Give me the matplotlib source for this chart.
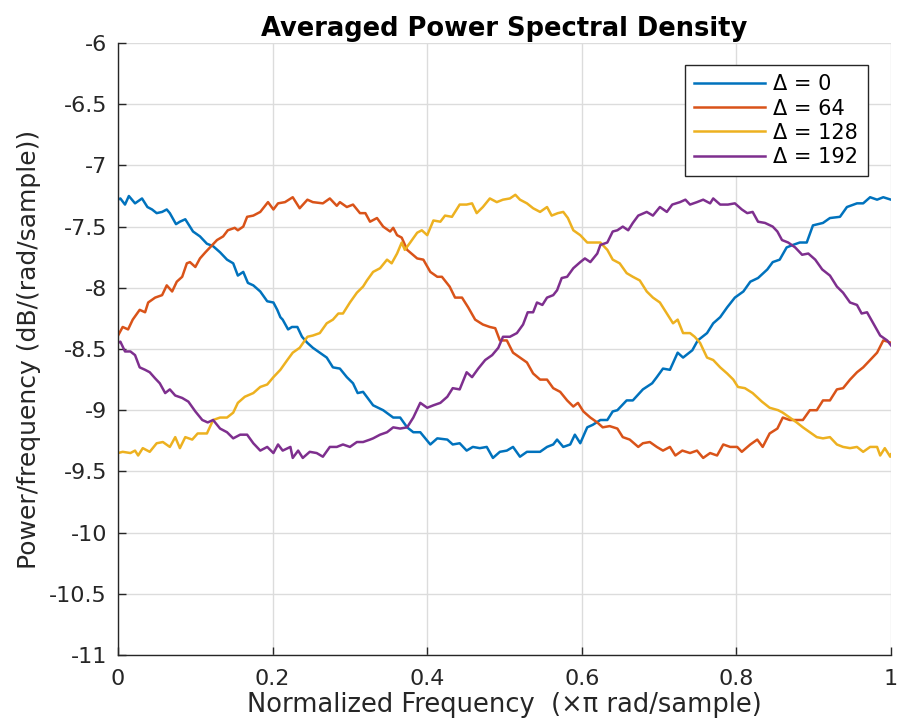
import matplotlib
matplotlib.use('Agg')
import matplotlib.pyplot as plt

plt.rcParams['font.family'] = ['DejaVu Sans']
plt.rcParams['axes.unicode_minus'] = False

# Averaged PSD for four delay values
labels = ['\u0394 = 0', '\u0394 = 64', '\u0394 = 128', '\u0394 = 192']
colors = ['#0072BD', '#D95319', '#EDB120', '#7E2F8E']

f_d0 = [0, 0.003, 0.009, 0.014, 0.022, 0.031, 0.038, 0.044, 0.050, 0.057, 0.063, 0.067, 0.075, 0.080,
        0.087, 0.097, 0.106, 0.115, 0.123, 0.132, 0.141, 0.149, 0.155, 0.162, 0.168, 0.175, 0.184, 0.193,
        0.201, 0.206, 0.210, 0.213, 0.220, 0.225, 0.232, 0.238, 0.245, 0.252, 0.261, 0.270, 0.278, 0.287,
        0.296, 0.304, 0.310, 0.317, 0.330, 0.343, 0.356, 0.365, 0.374, 0.382, 0.391, 0.404, 0.413, 0.426,
        0.433, 0.442, 0.451, 0.459, 0.468, 0.477, 0.485, 0.494, 0.503, 0.511, 0.520, 0.529, 0.537, 0.546,
        0.555, 0.563, 0.568, 0.576, 0.585, 0.591, 0.598, 0.607, 0.614, 0.624, 0.633, 0.640, 0.646, 0.658,
        0.666, 0.679, 0.691, 0.697, 0.705, 0.714, 0.724, 0.731, 0.743, 0.750, 0.762, 0.770, 0.779, 0.788,
        0.798, 0.809, 0.818, 0.828, 0.840, 0.847, 0.856, 0.865, 0.873, 0.882, 0.891, 0.899, 0.912, 0.921,
        0.934, 0.943, 0.956, 0.964, 0.973, 0.982, 0.990, 1.0]
psd_d0 = [-7.28, -7.27, -7.32, -7.25, -7.31, -7.27, -7.34, -7.36, -7.39, -7.38, -7.36, -7.39, -7.48, -7.46,
          -7.44, -7.54, -7.58, -7.64, -7.66, -7.71, -7.77, -7.80, -7.90, -7.87, -7.96, -7.98, -8.03, -8.11,
          -8.12, -8.18, -8.24, -8.26, -8.34, -8.32, -8.32, -8.40, -8.45, -8.49, -8.53, -8.57, -8.65, -8.66,
          -8.73, -8.78, -8.86, -8.85, -8.96, -9.00, -9.06, -9.06, -9.14, -9.18, -9.18, -9.28, -9.23, -9.24,
          -9.28, -9.27, -9.33, -9.30, -9.31, -9.30, -9.39, -9.34, -9.33, -9.30, -9.38, -9.34, -9.34, -9.34,
          -9.30, -9.28, -9.24, -9.30, -9.28, -9.20, -9.27, -9.14, -9.12, -9.08, -9.08, -9.01, -9.00, -8.92,
          -8.92, -8.83, -8.78, -8.73, -8.66, -8.67, -8.53, -8.57, -8.51, -8.43, -8.37, -8.29, -8.24, -8.16,
          -8.08, -8.03, -7.95, -7.92, -7.85, -7.79, -7.77, -7.67, -7.65, -7.63, -7.63, -7.49, -7.47, -7.43,
          -7.42, -7.34, -7.31, -7.31, -7.26, -7.28, -7.26, -7.28]

f_d64 = [0, 0.006, 0.013, 0.019, 0.028, 0.035, 0.039, 0.048, 0.057, 0.063, 0.070, 0.076, 0.083, 0.089,
         0.093, 0.100, 0.106, 0.113, 0.119, 0.128, 0.136, 0.142, 0.151, 0.155, 0.162, 0.167, 0.175, 0.184,
         0.194, 0.201, 0.207, 0.216, 0.226, 0.235, 0.245, 0.252, 0.265, 0.274, 0.283, 0.287, 0.296, 0.304,
         0.313, 0.320, 0.326, 0.335, 0.343, 0.352, 0.356, 0.361, 0.367, 0.374, 0.387, 0.395, 0.404, 0.413,
         0.419, 0.429, 0.436, 0.445, 0.453, 0.462, 0.472, 0.481, 0.488, 0.494, 0.503, 0.511, 0.520, 0.529,
         0.537, 0.546, 0.555, 0.563, 0.572, 0.581, 0.589, 0.595, 0.602, 0.611, 0.620, 0.627, 0.636, 0.646,
         0.653, 0.662, 0.673, 0.679, 0.688, 0.697, 0.705, 0.714, 0.721, 0.730, 0.740, 0.749, 0.757, 0.766,
         0.775, 0.783, 0.792, 0.801, 0.807, 0.818, 0.827, 0.834, 0.843, 0.853, 0.860, 0.869, 0.878, 0.886,
         0.895, 0.904, 0.912, 0.921, 0.930, 0.938, 0.947, 0.956, 0.964, 0.973, 0.982, 0.990, 0.996, 1.0]
psd_d64 = [-8.39, -8.32, -8.34, -8.26, -8.18, -8.20, -8.12, -8.08, -8.06, -7.98, -8.03, -7.95, -7.91, -7.80,
           -7.79, -7.83, -7.76, -7.71, -7.67, -7.61, -7.58, -7.53, -7.51, -7.53, -7.50, -7.42, -7.41, -7.38,
           -7.30, -7.36, -7.31, -7.30, -7.26, -7.35, -7.28, -7.30, -7.31, -7.27, -7.33, -7.30, -7.34, -7.32,
           -7.39, -7.39, -7.46, -7.43, -7.50, -7.54, -7.51, -7.57, -7.59, -7.69, -7.76, -7.77, -7.87, -7.91,
           -7.91, -7.99, -8.08, -8.08, -8.16, -8.26, -8.30, -8.32, -8.33, -8.43, -8.43, -8.53, -8.57, -8.61,
           -8.70, -8.75, -8.75, -8.82, -8.85, -8.92, -8.97, -8.94, -9.01, -9.06, -9.10, -9.14, -9.13, -9.15,
           -9.22, -9.24, -9.30, -9.27, -9.26, -9.30, -9.33, -9.30, -9.37, -9.33, -9.35, -9.33, -9.39, -9.35,
           -9.37, -9.28, -9.30, -9.30, -9.34, -9.28, -9.24, -9.30, -9.19, -9.15, -9.06, -9.08, -9.08, -9.08,
           -9.00, -9.00, -8.92, -8.92, -8.83, -8.82, -8.75, -8.69, -8.65, -8.59, -8.53, -8.43, -8.44, -8.45]

f_d128 = [0, 0.006, 0.016, 0.022, 0.026, 0.032, 0.041, 0.050, 0.058, 0.067, 0.074, 0.080, 0.087, 0.096,
          0.103, 0.115, 0.123, 0.132, 0.141, 0.149, 0.155, 0.164, 0.175, 0.184, 0.193, 0.201, 0.210, 0.219,
          0.226, 0.235, 0.245, 0.252, 0.261, 0.270, 0.278, 0.285, 0.291, 0.300, 0.309, 0.317, 0.322, 0.330,
          0.339, 0.348, 0.354, 0.361, 0.367, 0.371, 0.378, 0.387, 0.393, 0.400, 0.408, 0.417, 0.423, 0.432,
          0.442, 0.451, 0.458, 0.464, 0.472, 0.481, 0.490, 0.498, 0.507, 0.514, 0.520, 0.529, 0.537, 0.546,
          0.555, 0.561, 0.569, 0.576, 0.582, 0.589, 0.598, 0.607, 0.614, 0.624, 0.633, 0.640, 0.649, 0.658,
          0.666, 0.675, 0.684, 0.692, 0.701, 0.710, 0.718, 0.724, 0.731, 0.740, 0.746, 0.753, 0.762, 0.770,
          0.779, 0.788, 0.796, 0.802, 0.811, 0.821, 0.833, 0.843, 0.854, 0.860, 0.869, 0.878, 0.886, 0.895,
          0.904, 0.912, 0.921, 0.930, 0.938, 0.947, 0.956, 0.964, 0.973, 0.982, 0.986, 0.992, 0.999, 1.0]
psd_d128 = [-9.35, -9.34, -9.35, -9.33, -9.37, -9.31, -9.34, -9.27, -9.26, -9.30, -9.22, -9.31, -9.22, -9.24,
            -9.19, -9.19, -9.08, -9.06, -9.06, -9.02, -8.94, -8.89, -8.86, -8.81, -8.79, -8.73, -8.67, -8.59,
            -8.53, -8.49, -8.40, -8.39, -8.37, -8.29, -8.26, -8.21, -8.21, -8.12, -8.04, -7.99, -7.94, -7.87,
            -7.84, -7.77, -7.80, -7.72, -7.63, -7.69, -7.63, -7.55, -7.53, -7.57, -7.45, -7.46, -7.41, -7.42,
            -7.32, -7.32, -7.31, -7.39, -7.34, -7.27, -7.30, -7.28, -7.27, -7.24, -7.28, -7.31, -7.35, -7.38,
            -7.34, -7.41, -7.39, -7.38, -7.43, -7.53, -7.57, -7.63, -7.63, -7.63, -7.69, -7.77, -7.80, -7.88,
            -7.91, -7.94, -8.03, -8.08, -8.12, -8.21, -8.29, -8.26, -8.37, -8.37, -8.40, -8.45, -8.57, -8.59,
            -8.65, -8.70, -8.75, -8.81, -8.82, -8.86, -8.93, -8.98, -9.00, -9.02, -9.06, -9.10, -9.14, -9.18,
            -9.22, -9.23, -9.22, -9.28, -9.30, -9.31, -9.30, -9.34, -9.30, -9.30, -9.37, -9.31, -9.38, -9.36]

f_d192 = [0, 0.003, 0.009, 0.016, 0.022, 0.028, 0.035, 0.041, 0.048, 0.054, 0.061, 0.067, 0.074, 0.083,
          0.091, 0.100, 0.109, 0.116, 0.123, 0.132, 0.141, 0.149, 0.158, 0.167, 0.175, 0.184, 0.193, 0.201,
          0.207, 0.213, 0.223, 0.226, 0.233, 0.239, 0.248, 0.257, 0.265, 0.274, 0.283, 0.291, 0.300, 0.309,
          0.317, 0.326, 0.330, 0.339, 0.348, 0.356, 0.365, 0.374, 0.382, 0.391, 0.400, 0.408, 0.417, 0.426,
          0.433, 0.442, 0.451, 0.458, 0.466, 0.475, 0.484, 0.492, 0.498, 0.507, 0.516, 0.524, 0.530, 0.537,
          0.542, 0.549, 0.555, 0.563, 0.568, 0.574, 0.581, 0.589, 0.598, 0.604, 0.611, 0.620, 0.624, 0.633,
          0.640, 0.646, 0.653, 0.660, 0.666, 0.673, 0.684, 0.692, 0.701, 0.710, 0.717, 0.727, 0.734, 0.740,
          0.749, 0.757, 0.766, 0.770, 0.779, 0.789, 0.798, 0.807, 0.814, 0.821, 0.828, 0.837, 0.847, 0.853,
          0.859, 0.867, 0.876, 0.885, 0.893, 0.902, 0.911, 0.921, 0.930, 0.938, 0.947, 0.956, 0.962, 0.969,
          0.977, 0.986, 0.995, 1.0]
psd_d192 = [-8.45, -8.44, -8.52, -8.52, -8.55, -8.65, -8.67, -8.69, -8.74, -8.78, -8.86, -8.83, -8.88, -8.90,
            -8.93, -9.01, -9.08, -9.10, -9.08, -9.15, -9.18, -9.23, -9.20, -9.20, -9.27, -9.33, -9.30, -9.35,
            -9.28, -9.33, -9.30, -9.39, -9.33, -9.39, -9.34, -9.35, -9.38, -9.30, -9.30, -9.28, -9.30, -9.26,
            -9.26, -9.24, -9.23, -9.20, -9.18, -9.14, -9.15, -9.14, -9.06, -8.94, -8.98, -8.96, -8.94, -8.89,
            -8.82, -8.83, -8.69, -8.73, -8.66, -8.59, -8.55, -8.49, -8.40, -8.40, -8.37, -8.30, -8.20, -8.20,
            -8.12, -8.14, -8.08, -8.06, -8.02, -7.92, -7.91, -7.84, -7.79, -7.76, -7.79, -7.72, -7.65, -7.63,
            -7.54, -7.53, -7.50, -7.53, -7.47, -7.41, -7.38, -7.41, -7.34, -7.38, -7.32, -7.30, -7.28, -7.32,
            -7.30, -7.28, -7.31, -7.27, -7.32, -7.32, -7.31, -7.36, -7.39, -7.38, -7.46, -7.47, -7.50, -7.54,
            -7.61, -7.63, -7.67, -7.73, -7.72, -7.77, -7.85, -7.90, -7.99, -8.04, -8.12, -8.14, -8.21, -8.20,
            -8.29, -8.39, -8.43, -8.47]

xticks = [0, 0.2, 0.4, 0.6, 0.8, 1]
xtick_labels = ['0', '0.2', '0.4', '0.6', '0.8', '1']
yticks = [-11, -10.5, -10, -9.5, -9, -8.5, -8, -7.5, -7, -6.5, -6]
ytick_labels = ['-11', '-10.5', '-10', '-9.5', '-9', '-8.5', '-8', '-7.5', '-7', '-6.5', '-6']

fig = plt.figure(figsize=(8.99, 7.24), dpi=100)
ax = fig.add_axes([0.1313, 0.0953, 0.8598, 0.8453])

series = [(f_d0, psd_d0), (f_d64, psd_d64), (f_d128, psd_d128), (f_d192, psd_d192)]
for (f, p), lab, c in zip(series, labels, colors):
    ax.plot(f, p, color=c, linewidth=1.8, label=lab)

ax.set_xlim(0, 1)
ax.set_ylim(-11, -6)
ax.set_xticks(xticks)
ax.set_xticklabels(xtick_labels)
ax.set_yticks(yticks)
ax.set_yticklabels(ytick_labels)

ax.grid(True, color='#dcdcdc', linewidth=1.0)
ax.set_axisbelow(True)
for s in ['top', 'right']:
    ax.spines[s].set_visible(False)
for s in ['left', 'bottom']:
    ax.spines[s].set_color('#262626')
    ax.spines[s].set_linewidth(1.0)
ax.tick_params(direction='in', length=6, width=1.0, colors='#262626', labelsize=16)
ax.tick_params(axis='y', pad=8)
ax.tick_params(axis='x', pad=10)

ax.set_title('Averaged Power Spectral Density', fontsize=18.5, fontweight='bold', pad=5)
ax.set_xlabel('Normalized Frequency  (\u00d7\u03c0 rad/sample)', fontsize=18.5, color='#262626', labelpad=2)
ax.set_ylabel('Power/frequency (dB/(rad/sample))', fontsize=18, color='#262626', labelpad=6)

leg = ax.legend(loc='upper right', bbox_to_anchor=(0.97, 0.964), borderaxespad=0, fontsize=15,
                fancybox=False, framealpha=1, edgecolor='#262626', handlelength=3.4, borderpad=0.45,
                labelspacing=0.2, handletextpad=0.4)
leg.get_frame().set_linewidth(1.0)

plt.savefig('out.png', dpi=100)
